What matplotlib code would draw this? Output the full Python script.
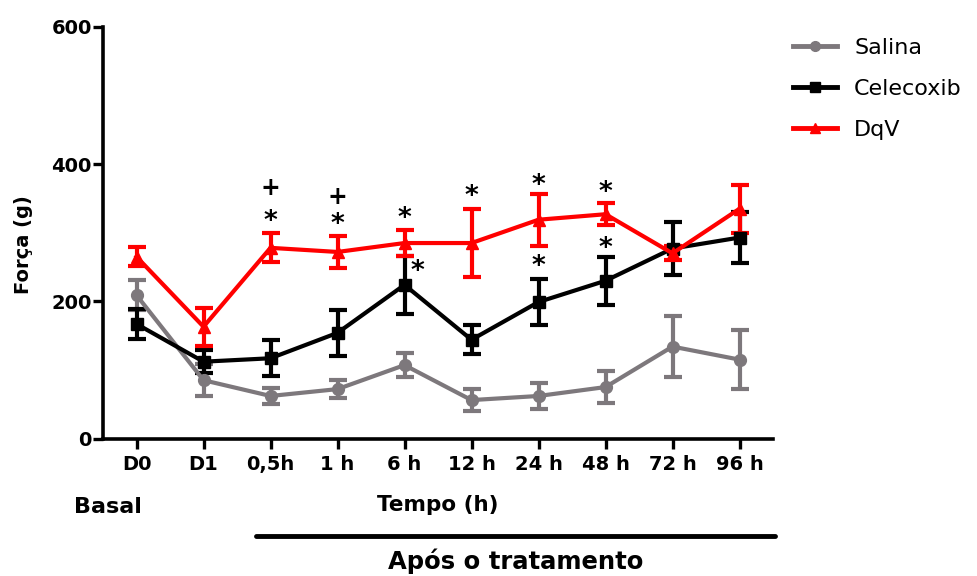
import numpy as np
import matplotlib
matplotlib.use("Agg")
import matplotlib.pyplot as plt
from matplotlib.lines import Line2D

plt.rcParams['font.family'] = ['DejaVu Sans']

categories = ["D0", "D1", "0,5h", "1 h", "6 h", "12 h", "24 h", "48 h", "72 h", "96 h"]
salina = [209, 85, 62, 72, 107, 56, 62, 75, 134, 115]
salina_err = [22, 23, 11, 13, 17, 16, 19, 23, 45, 43]
celecoxib = [167, 112, 117, 154, 224, 144, 199, 230, 277, 293]
celecoxib_err = [22, 17, 26, 33, 42, 21, 34, 35, 38, 37]
dqv = [265, 163, 278, 272, 285, 285, 319, 327, 270, 335]
dqv_err = [14, 28, 21, 23, 19, 50, 38, 16, 10, 35]

# significance marks: (category index, y value, symbol, x offset)
marks = [
    (2, 316, "*", 0), (2, 365, "+", 0),
    (3, 312, "*", 0), (3, 352, "+", 0),
    (4, 320, "*", 0), (4, 243, "*", 0.2),
    (5, 352, "*", 0),
    (6, 368, "*", 0), (6, 250, "*", 0),
    (7, 358, "*", 0), (7, 276, "*", 0),
]

x = np.arange(len(categories))
GRAY = "#7d787c"
RED = "#ff0000"

fig = plt.figure(figsize=(9.77, 5.76), dpi=100)
ax = fig.add_axes([103/977, 1-438.5/576, (773-103)/977, (438.5-27)/576])

common = dict(linewidth=3, capsize=6.5, capthick=3, elinewidth=3)
ax.errorbar(x, salina, yerr=salina_err, color=GRAY, marker="o", markersize=8.5, **common)
ax.errorbar(x, celecoxib, yerr=celecoxib_err, color="black", marker="s", markersize=8.5, **common)
ax.errorbar(x, dqv, yerr=dqv_err, color=RED, marker="^", markersize=9, **common)

for i, yv, s, dx in marks:
    ax.text(x[i] + dx, yv, s, ha="center", va="center", fontsize=19 if s == "*" else 17,
            fontweight="bold", color="black")

ax.set_xlim(-0.5, len(categories) - 0.5)
ax.set_ylim(0, 600)
ax.set_yticks([0, 200, 400, 600])
ax.set_xticks(x)
ax.set_xticklabels(categories)
for lab in ax.get_xticklabels() + ax.get_yticklabels():
    lab.set_fontweight("bold")
    lab.set_fontsize(14)
ax.tick_params(direction="out", length=7, width=2.4)
ax.tick_params(axis="y", pad=1)
ax.tick_params(axis="x", pad=5)
for side in ["top", "right"]:
    ax.spines[side].set_visible(False)
for side in ["left", "bottom"]:
    ax.spines[side].set_linewidth(2.6)

ax.set_ylabel("Força (g)", fontsize=14, fontweight="bold")
ax.yaxis.set_label_coords(-0.105, 0.47)

handles = [
    Line2D([], [], color=GRAY, marker="o", markersize=7, linewidth=3.5),
    Line2D([], [], color="black", marker="s", markersize=7, linewidth=3.5),
    Line2D([], [], color=RED, marker="^", markersize=7, linewidth=3.5),
]
fig.legend(handles, ["Salina", "Celecoxib", "DqV"], loc="upper left",
           bbox_to_anchor=(793/977, 1-38/576), frameon=False, fontsize=16,
           handlelength=2.0, handletextpad=0.75, labelspacing=0.95, borderaxespad=0, borderpad=0)

fig.text(438/977, 1-505/576, "Tempo (h)", ha="center", va="center", fontsize=15.5, fontweight="bold")
fig.text(108/977, 1-507/576, "Basal", ha="center", va="center", fontsize=16, fontweight="bold")
fig.add_artist(Line2D([256/977, 775/977], [1-536/576, 1-536/576], color="black", linewidth=3.5,
                      solid_capstyle="round", transform=fig.transFigure))
fig.text(516/977, 1-561/576, "Após o tratamento", ha="center", va="center", fontsize=17.5, fontweight="bold")

fig.savefig("out.png", dpi=100)
